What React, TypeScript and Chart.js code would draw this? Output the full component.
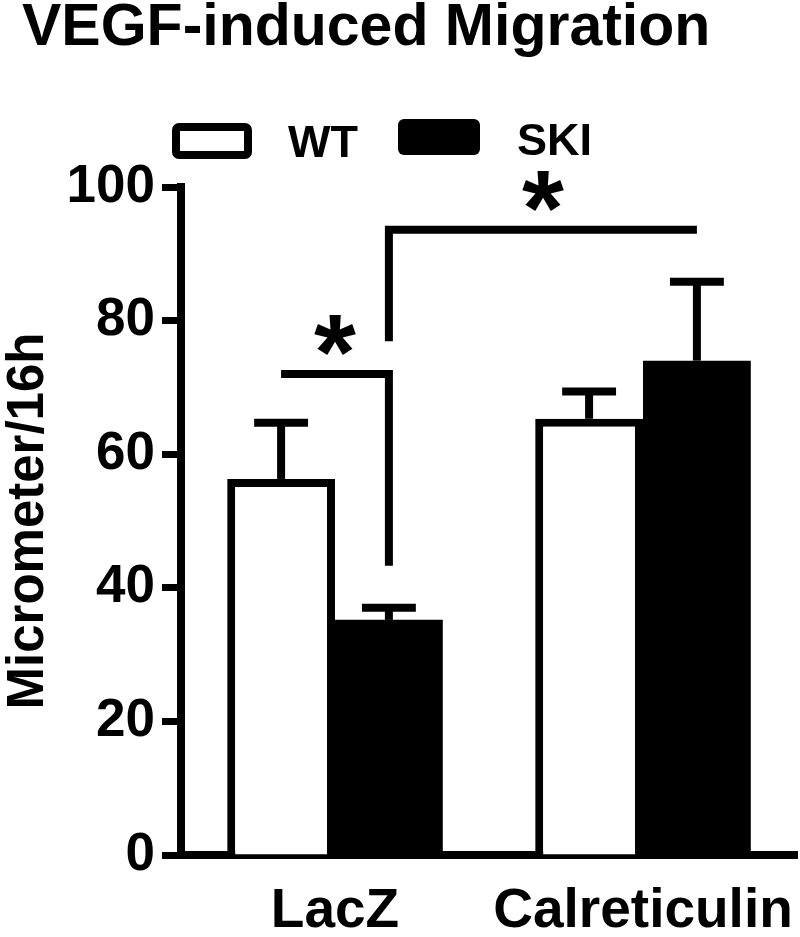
import React, { useEffect, useRef } from "react";
import { Chart, registerables } from "chart.js";

Chart.register(...registerables);

// ---- data ----
const chartTitle = "VEGF-induced Migration";
const yAxisTitle = "Micrometer/16h";
const categories = ["LacZ", "Calreticulin"];
const seriesNames = ["WT", "SKI"];
const wtMeans = [56.3, 65.3];
const skiMeans = [35.2, 74.0];
const wtErrors = [8.4, 4.1];
const skiErrors = [1.8, 11.8];
const yMin = 0;
const yMax = 100;
const yStep = 20;
// significance brackets: endpoints as [categoryIndex, seriesIndex]
const bracketFrom = [[0, 0], [0, 1]];
const bracketTo = [[0, 1], [1, 1]];
const bracketLevels = [72.0, 93.6];
const bracketLeftDrops: (number | null)[] = [null, 76.9];
const bracketRightDrops: (number | null)[] = [43.3, null];
const starLevels = [77.8, 99.3];
const starLabel = "*";

const FONT = '"Liberation Sans", Arial, Helvetica, sans-serif';

const overlayPlugin = {
  id: "overlay",
  afterDraw(chart: any) {
    const ctx: CanvasRenderingContext2D = chart.ctx;
    const ys = chart.scales.y;
    const means = [wtMeans, skiMeans];
    const errs = [wtErrors, skiErrors];
    ctx.save();
    ctx.strokeStyle = "#000";
    ctx.fillStyle = "#000";

    // error bars (upper only)
    for (let d = 0; d < 2; d++) {
      const meta = chart.getDatasetMeta(d);
      meta.data.forEach((bar: any, i: number) => {
        const p = bar.getProps(["x", "width"], true);
        const top = ys.getPixelForValue(means[d][i]);
        const cap = ys.getPixelForValue(means[d][i] + errs[d][i]);
        ctx.lineWidth = 8;
        ctx.lineCap = "butt";
        ctx.beginPath();
        ctx.moveTo(p.x, top);
        ctx.lineTo(p.x, cap);
        ctx.stroke();
        ctx.beginPath();
        ctx.moveTo(p.x - p.width / 4, cap);
        ctx.lineTo(p.x + p.width / 4, cap);
        ctx.stroke();
      });
    }

    const barX = (ref: number[]) => {
      const bar = chart.getDatasetMeta(ref[1]).data[ref[0]];
      return bar.getProps(["x"], true).x;
    };

    // brackets and stars
    for (let b = 0; b < bracketLevels.length; b++) {
      const x1 = barX(bracketFrom[b]);
      const x2 = barX(bracketTo[b]);
      const yl = ys.getPixelForValue(bracketLevels[b]);
      ctx.lineWidth = 8;
      ctx.lineJoin = "miter";
      ctx.lineCap = "butt";
      ctx.beginPath();
      const ld = bracketLeftDrops[b];
      const rd = bracketRightDrops[b];
      if (ld !== null) {
        ctx.moveTo(x1, ys.getPixelForValue(ld));
        ctx.lineTo(x1, yl);
      } else {
        ctx.moveTo(x1, yl);
      }
      ctx.lineTo(x2, yl);
      if (rd !== null) ctx.lineTo(x2, ys.getPixelForValue(rd));
      ctx.stroke();

      // star
      const sx = (x1 + x2) / 2;
      const sy = ys.getPixelForValue(starLevels[b]);
      ctx.font = `bold 100px ${FONT}`;
      const m = ctx.measureText(starLabel);
      const inkW = m.actualBoundingBoxLeft + m.actualBoundingBoxRight;
      const size = (100 * 42) / inkW;
      ctx.font = `bold ${size}px ${FONT}`;
      const m2 = ctx.measureText(starLabel);
      ctx.textAlign = "left";
      ctx.textBaseline = "alphabetic";
      const w2 = m2.actualBoundingBoxLeft + m2.actualBoundingBoxRight;
      const h2 = m2.actualBoundingBoxAscent + m2.actualBoundingBoxDescent;
      const tx = sx - w2 / 2 + m2.actualBoundingBoxLeft;
      const ty = sy - h2 / 2 + m2.actualBoundingBoxAscent;
      ctx.fillText(starLabel, tx, ty);
    }

    // title
    ctx.font = `bold 59px ${FONT}`;
    ctx.textAlign = "left";
    ctx.textBaseline = "alphabetic";
    ctx.fillText(chartTitle, 22, 45);

    // legend
    ctx.lineWidth = 8;
    ctx.lineJoin = "round";
    ctx.beginPath();
    (ctx as any).roundRect(176, 127, 72, 28, 3);
    ctx.fillStyle = "#fff";
    ctx.fill();
    ctx.stroke();
    ctx.fillStyle = "#000";
    ctx.beginPath();
    (ctx as any).roundRect(398, 119, 82, 36, 6);
    ctx.fill();
    ctx.font = `bold 45px ${FONT}`;
    ctx.fillText(seriesNames[0], 288, 157);
    ctx.fillText(seriesNames[1], 517, 155);

    ctx.restore();
  },
};

export default function App() {
  const canvasRef = useRef<HTMLCanvasElement | null>(null);

  useEffect(() => {
    if (!canvasRef.current) return;
    Chart.defaults.font.family = FONT;
    Chart.defaults.color = "#000";
    const chart = new Chart(canvasRef.current, {
      type: "bar",
      data: {
        labels: categories,
        datasets: [
          {
            label: seriesNames[0],
            data: wtMeans,
            backgroundColor: "#ffffff",
            borderColor: "#000000",
            borderWidth: 8,
            borderSkipped: "bottom",
            categoryPercentage: 0.7,
            barPercentage: 1.0,
          },
          {
            label: seriesNames[1],
            data: skiMeans,
            backgroundColor: "#000000",
            borderColor: "#000000",
            borderWidth: 0,
            borderSkipped: "bottom",
            categoryPercentage: 0.7,
            barPercentage: 1.0,
          },
        ],
      },
      options: {
        responsive: false,
        animation: false,
        devicePixelRatio: 1,
        layout: { padding: { top: 187, left: 0, right: 3, bottom: 0 } },
        plugins: {
          legend: { display: false },
          title: { display: false },
          tooltip: { enabled: false },
        },
        scales: {
          x: {
            z: 1,
            afterFit: (s: any) => {
              s.height = 82;
              s.paddingLeft = 0;
              s.paddingRight = 0;
            },
            grid: { display: true, drawOnChartArea: false, drawTicks: false },
            border: { display: true, color: "#000", width: 8 },
            ticks: {
              color: "#000",
              padding: 24,
              font: { size: 55, weight: "bold", family: FONT },
            },
          },
          y: {
            z: 1,
            min: yMin,
            max: yMax,
            afterFit: (s: any) => {
              s.width = 181;
            },
            grid: {
              display: true,
              drawOnChartArea: false,
              drawTicks: true,
              tickLength: 19,
              tickWidth: 7,
              tickColor: "#000",
            },
            border: { display: true, color: "#000", width: 8 },
            ticks: {
              stepSize: yStep,
              color: "#000",
              padding: 7,
              font: { size: 53, weight: "bold", family: FONT },
            },
            title: {
              display: true,
              text: yAxisTitle,
              color: "#000",
              padding: { top: -2, bottom: 0 },
              font: { size: 51, weight: "bold", family: FONT },
            },
          },
        },
      },
      plugins: [overlayPlugin],
    } as any);
    return () => chart.destroy();
  }, []);

  return (
    <div style={{ position: "absolute", left: 0, top: 0, width: 800, height: 937, background: "#fff" }}>
      <canvas ref={canvasRef} width={800} height={937} style={{ width: 800, height: 937, display: "block" }} />
    </div>
  );
}
